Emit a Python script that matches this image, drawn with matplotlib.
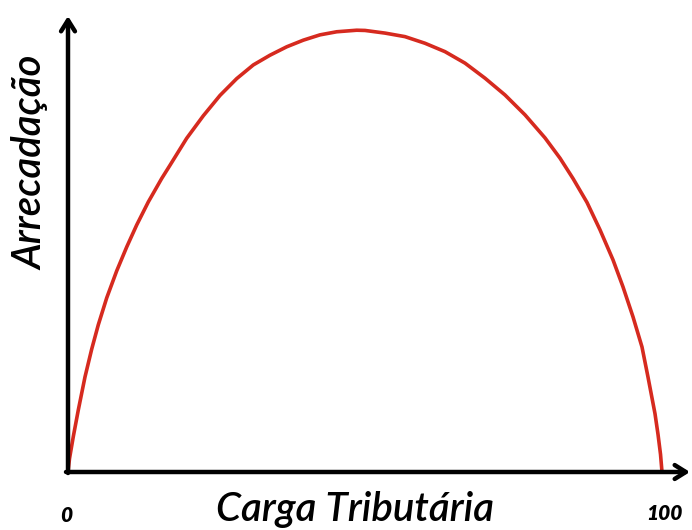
import matplotlib.pyplot as plt

# Curve (tax burden % vs. revenue, 0-100 scale)
carga = [0, 0.25, 0.89, 1.73, 2.86, 3.99, 5.10, 6.52, 8.20, 9.88, 11.57, 13.52,
         15.77, 17.17, 19.98, 22.78, 25.59, 28.40, 31.20, 34.01, 36.82, 39.61,
         42.42, 45.24, 48.60, 50.0, 53.37, 56.73, 60.10, 63.47, 66.84, 70.20,
         73.57, 76.94, 80.30, 82.83, 85.02, 87.37, 89.56, 91.75, 93.43, 95.12,
         96.63, 97.64, 98.82, 99.33, 99.75, 100]
arrecadacao = [0, 3.0, 8.0, 14.0, 21.5, 27.8, 33.3, 39.4, 45.5, 50.9, 55.9, 61.1,
               66.4, 69.4, 75.5, 80.6, 85.2, 89.0, 92.1, 94.3, 96.2, 97.7,
               98.9, 99.6, 99.95, 99.9, 99.3, 98.5, 97.0, 95.1, 92.5, 89.1,
               85.3, 80.8, 75.6, 71.0, 66.4, 61.0, 54.8, 48.0, 41.9, 35.1,
               28.3, 21.5, 13.2, 8.5, 4.0, 0]

xlabel = "Carga Tributária"
ylabel = "Arrecadação"
tick_labels = ["0", "100"]

W, H = 692, 530
fig = plt.figure(figsize=(W / 100, H / 100), dpi=100)

# axes placed so that x=0 sits at px 68, x=100 at px 662, y=0 at 472, y=100 at 30
ax = fig.add_axes([68 / W, 58 / H, 624 / W, 462 / H])
ax.set_xlim(0, 100 * 624 / 594)
ax.set_ylim(0, 100 * 462 / 442)
ax.axis("off")

ax.plot(carga, arrecadacao, color="#d62a1f", lw=2.6, solid_capstyle="round",
        solid_joinstyle="round", clip_on=False)

# axis arrows
arrow = dict(arrowstyle="->,head_length=0.8,head_width=0.5", color="black",
             lw=3.2, shrinkA=0, shrinkB=0)
ax.annotate("", xy=(68 / W, 1 - 16 / H), xytext=(68 / W, 1 - 473 / H),
            xycoords="figure fraction", textcoords="figure fraction",
            arrowprops=arrow)
ax.annotate("", xy=(690 / W, 1 - 472 / H), xytext=(66 / W, 1 - 472 / H),
            xycoords="figure fraction", textcoords="figure fraction",
            arrowprops=arrow)

font = dict(family="Lato", style="italic", weight="semibold", color="black")
fig.text(31 / W, 1 - 163 / H, ylabel, rotation=90, ha="center", va="center",
         fontsize=29, **font)
fig.text(355 / W, 1 - 510 / H, xlabel, ha="center", va="center",
         fontsize=29, **font)
fig.text(66 / W, 1 - 515 / H, tick_labels[0], ha="center", va="center",
         fontsize=15, family="Lato", style="italic", weight="heavy")
fig.text(664 / W, 1 - 513 / H, tick_labels[1], ha="center", va="center",
         fontsize=15, family="Lato", style="italic", weight="heavy")

fig.savefig("out.png", dpi=100, facecolor="white")
